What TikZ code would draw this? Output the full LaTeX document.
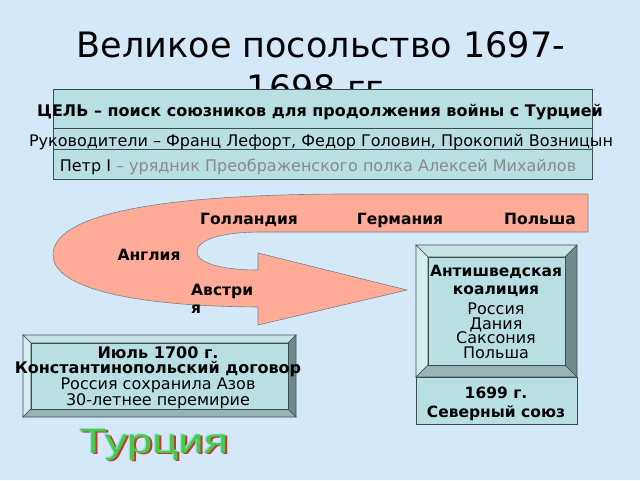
\documentclass[tikz,border=0pt]{standalone}
\usepackage{fontspec}
\setmainfont{DejaVu Sans}
\newfontfamily\wordart{Liberation Sans}
\usepackage{tikz}
\definecolor{bgblue}{HTML}{D5E8F8}
\definecolor{facecol}{HTML}{B8E0E3}
\definecolor{arrowcol}{HTML}{FFAB98}
\definecolor{bevlight}{HTML}{D6EEEF}
\definecolor{bevtopc}{HTML}{C6E4E6}
\definecolor{bevdark}{HTML}{6E8A8A}
\definecolor{bevmid}{HTML}{97B3B3}
\definecolor{edgecol}{HTML}{3E4E4E}
\definecolor{greytext}{HTML}{8A8A8A}
\definecolor{artgreen}{HTML}{44CC44}
\definecolor{artred}{HTML}{C03838}
\definecolor{artblue}{HTML}{9FD8F0}
\tikzset{%
  rowbox/.style   = {fill=facecol, draw=edgecol, line width=0.8pt},%
  bandlabel/.style = {font=\fontsize{15.5}{16}\selectfont\bfseries, inner sep=0pt, anchor=base},%
  boxtext/.style  = {align=center, inner sep=0pt},%
  bevel/.style    = {draw=edgecol, line width=0.6pt},%
  arttext/.style  = {font=\wordart\fontsize{35}{35}\selectfont}%
}
% outer corner (#1,#2), opposite corner (#3,#4), bevel width #5
\newcommand\bevelframe[5]{%
  \filldraw[bevel,fill=bevtopc] (#1,#2) -- (#3,#2) -- (#3-#5,#2+#5) -- (#1+#5,#2+#5) -- cycle;
  \filldraw[bevel,fill=bevlight] (#1,#2) -- (#1+#5,#2+#5) -- (#1+#5,#4-#5) -- (#1,#4) -- cycle;
  \filldraw[bevel,fill=bevdark] (#3,#2) -- (#3,#4) -- (#3-#5,#4-#5) -- (#3-#5,#2+#5) -- cycle;
  \filldraw[bevel,fill=bevmid] (#1,#4) -- (#3,#4) -- (#3-#5,#4-#5) -- (#1+#5,#4-#5) -- cycle;
  \filldraw[bevel,fill=facecol] (#1+#5,#2+#5) rectangle (#3-#5,#4-#5);
}
% word with red shadow and pale edge
\newcommand\artword[1]{%
  \rlap{\kern1.5pt\raisebox{-1.5pt}{\textcolor{artred}{#1}}}%
  \rlap{\kern-1pt\raisebox{1pt}{\textcolor{artblue}{#1}}}%
  \textcolor{artgreen}{#1}%
}
\begin{document}
\begin{tikzpicture}[x=1pt,y=-1pt,
	every node/.style={font=\fontsize{16}{14.5}\selectfont}]
	\fill[bgblue] (0,0) rectangle (640,480);
	\useasboundingbox (0,0) rectangle (640,480);
	% title
	\node[anchor=base,font=\fontsize{35}{35}\selectfont] (title1) at (321,57) {Великое посольство 1697-};
	\node[anchor=base,font=\fontsize{35}{35}\selectfont] (title2) at (321,100) {1698 гг.};
	% top table
	\draw[rowbox] (53,89) rectangle (592,128);
	\draw[rowbox] (53,128) rectangle (592,149);
	\draw[rowbox] (53,149) rectangle (592,179);
	\node[anchor=base,font=\fontsize{16}{16}\selectfont\bfseries] (goal) at (320,116) {ЦЕЛЬ – поиск союзников для продолжения войны с Турцией};
	\node[anchor=base] (heads) at (321,146) {Руководители – Франц Лефорт, Федор Головин, Прокопий Возницын};
	\node[anchor=base] (peter) at (318,171) {Петр I \textcolor{greytext}{– урядник Преображенского полка Алексей Михайлов}};
	% the route
	\filldraw[fill=arrowcol, draw=edgecol!70, line width=0.6pt]
		(588,194) -- (588,232) -- (262,232)
		.. controls (220,232) and (197,240) .. (197,252)
		.. controls (197,264) and (225,270) .. (258,270)
		-- (258,253) -- (407,290) -- (258,325) -- (258,307)
		.. controls (120,306) and (53,285) .. (53,255)
		.. controls (53,218) and (140,195) .. (340,194) -- cycle;
	\node[bandlabel] (holland) at (249,224) {Голландия};
	\node[bandlabel] (germany) at (400,224) {Германия};
	\node[bandlabel] (poland) at (540,224) {Польша};
	\node[bandlabel] (england) at (149,260) {Англия};
	\node[bandlabel,anchor=base west] (austria) at (191,295) {Австри};
	\node[bandlabel,anchor=base west] (austria2) at (191,313) {я};
	% coalition
	\bevelframe{416}{245}{577}{377}{12}
	\draw[rowbox] (416,377) rectangle (577,424);
	\node[boxtext,font=\fontsize{15.5}{18}\selectfont\bfseries] (coalition) at (496,281) {Антишведская\\коалиция};
	\node[boxtext] (members) at (496,331) {Россия\\Дания\\Саксония\\Польша};
	\node[boxtext,font=\fontsize{15.5}{19}\selectfont\bfseries] (union) at (496,403.5) {1699 г.\\Северный союз};
	% treaty
	\bevelframe{23}{335}{296}{417}{8}
	\node[boxtext] (treaty) at (158,378) {\textbf{Июль 1700 г.}\\\textbf{Константинопольский договор}\\Россия сохранила Азов\\30-летнее перемирие};
	% turkey
	\node[arttext] (turkey) at (154,445) {\scalebox{1.3}[1]{\artword{Турция}}};
\end{tikzpicture}
\end{document}
